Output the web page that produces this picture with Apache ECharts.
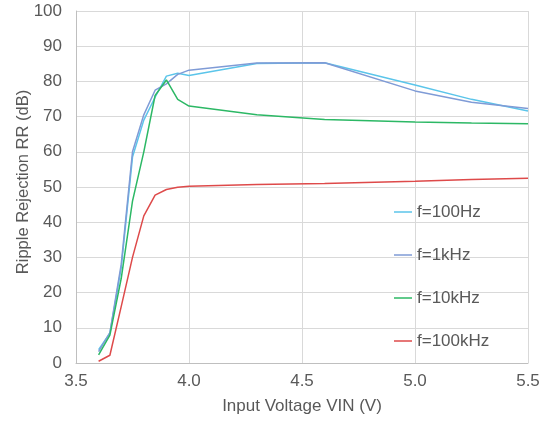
<!DOCTYPE html>
<html>
<head>
<meta charset="utf-8">
<script src="https://cdn.jsdelivr.net/npm/echarts@6/dist/echarts.min.js"></script>
<style>
  html, body { margin: 0; padding: 0; background: #fff; }
  #chart { width: 547px; height: 421px; }
</style>
</head>
<body>
<div id="chart"></div>
<script>
// input voltage (V)
var vin = [3.6, 3.65, 3.7, 3.75, 3.8, 3.85, 3.9, 3.95, 4.0, 4.3, 4.6, 5.0, 5.25, 5.5];
// ripple rejection (dB) per frequency
var rr100Hz  = [3.8, 8.5, 27, 58.5, 69, 75.5, 81.5, 82.3, 81.7, 85.1, 85.3, 79.0, 74.9, 71.6];
var rr1kHz   = [3.2, 8.6, 28, 60, 70.5, 77.5, 79.3, 82, 83.2, 85.2, 85.3, 77.3, 74.1, 72.3];
var rr10kHz  = [2.3, 7.9, 24, 46, 60, 76, 80.4, 74.9, 73, 70.5, 69.2, 68.5, 68.2, 68.0];
var rr100kHz = [0.5, 2.2, 16, 30, 41.8, 47.7, 49.3, 49.9, 50.2, 50.7, 51.0, 51.6, 52.1, 52.5];

var seriesNames = ['f=100Hz', 'f=1kHz', 'f=10kHz', 'f=100kHz'];
var seriesColors = ['#5bc5ea', '#7f9bd6', '#2cb865', '#de4a4a'];
var seriesData = [rr100Hz, rr1kHz, rr10kHz, rr100kHz];

function pairs(ys) {
  return vin.map(function (x, i) { return [x, ys[i]]; });
}

var font = '"Liberation Sans", Arial, sans-serif';
var gray = '#595959';

var myChart = echarts.init(document.getElementById('chart'));
myChart.setOption({
  animation: false,
  textStyle: { fontFamily: font },
  grid: { left: 76, right: 19, top: 11, bottom: 58 },
  legend: {
    orient: 'vertical',
    left: 394,
    top: 202,
    padding: 0,
    icon: 'rect',
    itemWidth: 18,
    itemHeight: 1.5,
    itemGap: 23,
    textStyle: { color: gray, fontSize: 17, lineHeight: 20, fontFamily: font },
    data: seriesNames
  },
  xAxis: {
    type: 'value',
    min: 3.5,
    max: 5.5,
    interval: 0.5,
    name: 'Input Voltage VIN (V)',
    nameLocation: 'middle',
    nameGap: 35,
    nameMoveOverlap: false,
    nameTextStyle: { color: gray, fontSize: 17 },
    axisLine: { lineStyle: { color: '#bfbfbf' } },
    axisTick: { show: false },
    axisLabel: {
      color: gray, fontSize: 17, margin: 10,
      formatter: function (v) { return v.toFixed(1); }
    },
    splitLine: { show: true, lineStyle: { color: '#d9d9d9' } }
  },
  yAxis: {
    type: 'value',
    min: 0,
    max: 100,
    interval: 10,
    name: 'Ripple Rejection RR (dB)',
    nameLocation: 'middle',
    nameGap: 44,
    nameMoveOverlap: false,
    nameTextStyle: { color: gray, fontSize: 16.5, padding: [0, 0, 0, 10] },
    axisLine: { show: true, lineStyle: { color: '#bfbfbf' } },
    axisTick: { show: false },
    axisLabel: { color: gray, fontSize: 17, margin: 14 },
    splitLine: { show: true, lineStyle: { color: '#d9d9d9' } }
  },
  series: seriesNames.map(function (name, i) {
    return {
      name: name,
      type: 'line',
      symbol: 'none',
      data: pairs(seriesData[i]),
      color: seriesColors[i],
      lineStyle: { width: 1.5, color: seriesColors[i] }
    };
  })
});
</script>
</body>
</html>
